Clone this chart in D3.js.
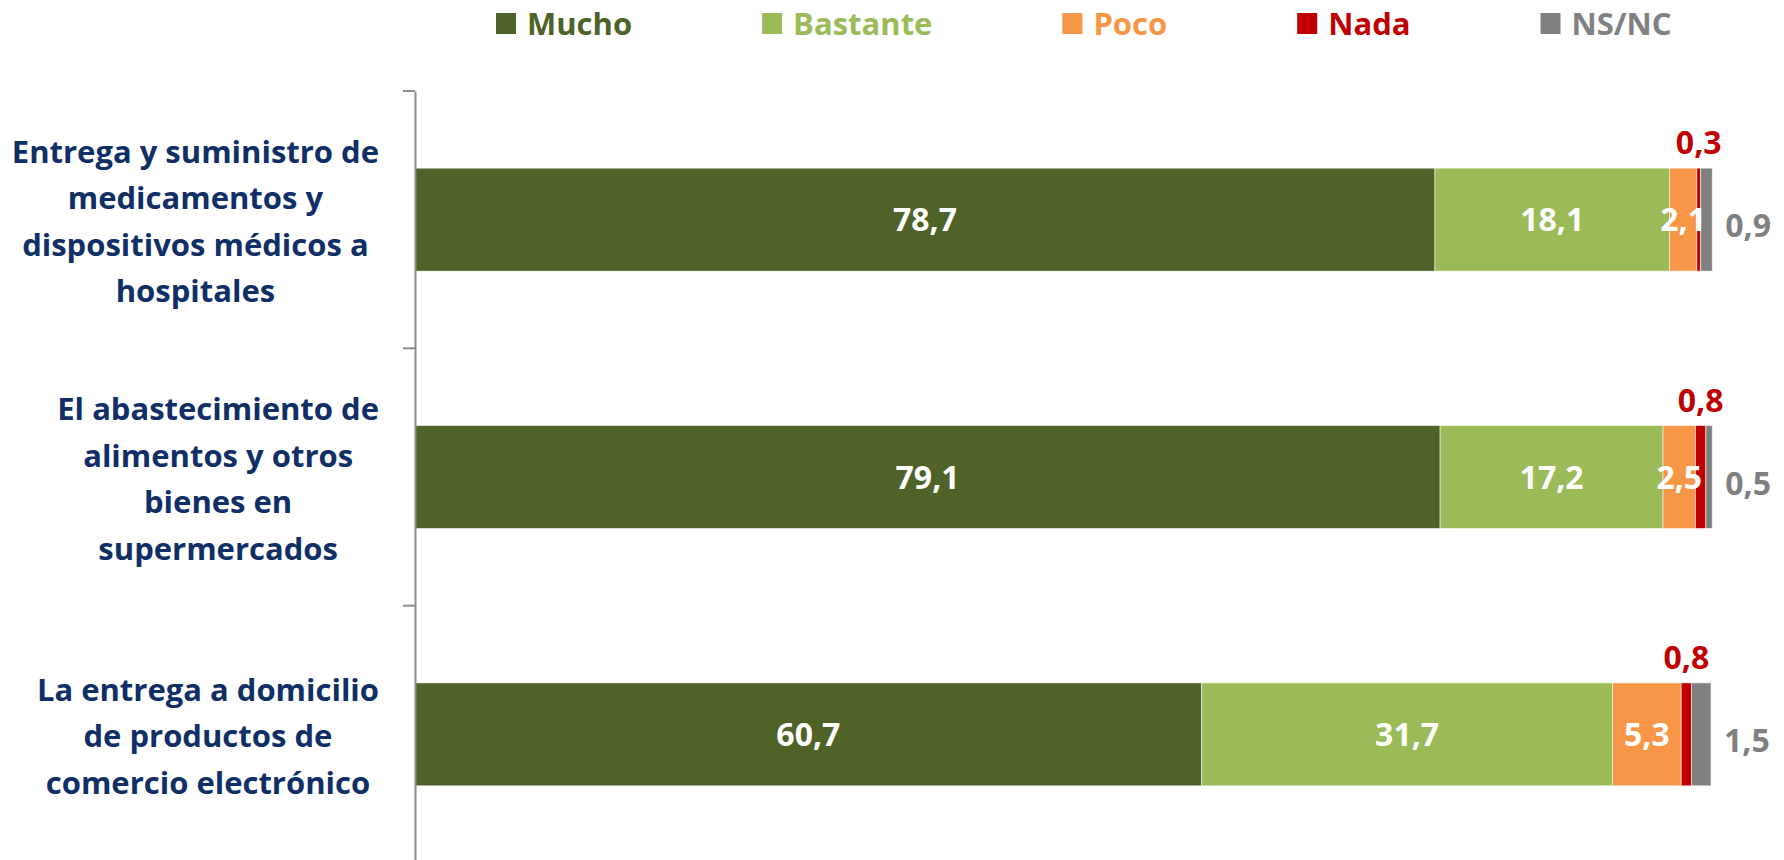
<!DOCTYPE html>
<html>
<head>
<meta charset="utf-8">
<script src="https://cdn.jsdelivr.net/npm/d3@7/dist/d3.min.js"></script>
<style>
  html, body { margin: 0; padding: 0; background: #fff; }
  svg { display: block; font-family: "Open Sans", sans-serif; }
</style>
</head>
<body>
<svg id="chart" width="1784" height="860"></svg>
<script>
// ---- data ----
const categories = [
  "Entrega y suministro de\nmedicamentos y\ndispositivos médicos a\nhospitales",
  "El abastecimiento de\nalimentos y otros\nbienes en\nsupermercados",
  "La entrega a domicilio\nde productos de\ncomercio electrónico"
];
const seriesNames = ["Mucho", "Bastante", "Poco", "Nada", "NS/NC"];
const mucho    = [78.7, 79.1, 60.7];
const bastante = [18.1, 17.2, 31.7];
const poco     = [2.1, 2.5, 5.3];
const nada     = [0.3, 0.8, 0.8];
const nsnc     = [0.9, 0.5, 1.5];
const colors   = ["#4F6228", "#9BBB59", "#F79646", "#C00000", "#808080"];

// ---- layout ----
const W = 1784, H = 860;
const plot = { left: 415, right: 1711, top: 91, bottom: 863 };
const svg = d3.select("#chart");
const locale = d3.formatLocale({ decimal: ",", thousands: ".", grouping: [3], currency: ["", "€"] });
const fmt = locale.format(".1f");

const rows = categories.map((c, i) => ({
  cat: c, Mucho: mucho[i], Bastante: bastante[i], Poco: poco[i], Nada: nada[i], "NS/NC": nsnc[i]
}));
const stack = d3.stack().keys(seriesNames)(rows);

const x = d3.scaleLinear().domain([0, 100]).range([plot.left, plot.right]);
const y = d3.scaleBand().domain(categories).range([plot.top, plot.bottom]).paddingInner(0.6).paddingOuter(0.3);
const color = d3.scaleOrdinal().domain(seriesNames).range(colors);

// ---- bars ----
const layers = svg.append("g").selectAll("g").data(stack).join("g")
  .attr("fill", d => color(d.key));
layers.selectAll("rect").data(d => d.map(p => ({ p, key: d.key }))).join("rect")
  .attr("x", d => x(d.p[0]))
  .attr("y", d => y(d.p.data.cat))
  .attr("width", d => x(d.p[1]) - x(d.p[0]))
  .attr("height", y.bandwidth())
  .attr("stroke", "rgba(255,255,255,0.55)")
  .attr("stroke-width", 1);

// ---- axis ----
const axisG = svg.append("g").attr("transform", `translate(${plot.left},0)`);
axisG.call(d3.axisLeft(y).tickSize(0).tickFormat(""));
axisG.select(".domain").attr("stroke", "#8C8C8C").attr("stroke-width", 2);
const step = y.step();
const boundaries = categories.map((c, i) => plot.top + i * step);
axisG.selectAll("line.bnd").data(boundaries).join("line").attr("class", "bnd")
  .attr("x1", -12).attr("x2", 0).attr("y1", d => d).attr("y2", d => d)
  .attr("stroke", "#8C8C8C").attr("stroke-width", 2);

// ---- category labels ----
const labelRight = 379, lineH = 46.5;
categories.forEach(c => {
  const lines = c.split("\n");
  const g = svg.append("g");
  const cy = y(c) + y.bandwidth() / 2;
  const texts = g.selectAll("text").data(lines).join("text")
    .attr("y", (d, i) => cy + 2 + (i - (lines.length - 1) / 2) * lineH)
    .attr("dy", "0.35em")
    .attr("text-anchor", "middle")
    .attr("font-size", 31).attr("font-weight", 700).attr("fill", "#0F2F66")
    .text(d => d);
  let maxW = 0;
  texts.each(function () { maxW = Math.max(maxW, this.getComputedTextLength()); });
  texts.attr("x", labelRight - maxW / 2);
});

// ---- value labels ----
const inside = ["Mucho", "Bastante", "Poco"];
stack.forEach(layer => {
  layer.forEach(p => {
    const v = p.data[layer.key];
    const cx = (x(p[0]) + x(p[1])) / 2;
    const top = y(p.data.cat), mid = top + y.bandwidth() / 2;
    if (inside.includes(layer.key)) {
      svg.append("text").attr("x", cx).attr("y", mid).attr("dy", "0.36em")
        .attr("text-anchor", "middle").attr("font-size", 32).attr("font-weight", 700)
        .attr("fill", "#fff").text(fmt(v));
    } else if (layer.key === "Nada") {
      svg.append("text").attr("x", cx).attr("y", top - 14)
        .attr("text-anchor", "middle").attr("font-size", 32).attr("font-weight", 700)
        .attr("fill", colors[3]).text(fmt(v));
    } else {
      svg.append("text").attr("x", x(p[1]) + 13).attr("y", mid + 6).attr("dy", "0.36em")
        .attr("text-anchor", "start").attr("font-size", 32).attr("font-weight", 700)
        .attr("fill", colors[4]).text(fmt(v));
    }
  });
});

// ---- legend ----
const leg = svg.append("g");
let lx = 496;
seriesNames.forEach((name, i) => {
  leg.append("rect").attr("x", lx).attr("y", 13).attr("width", 20).attr("height", 21).attr("fill", colors[i]);
  const t = leg.append("text").attr("x", lx + 31).attr("y", 35)
    .attr("font-size", 31).attr("font-weight", 700).attr("fill", colors[i]).text(name);
  lx += 31 + t.node().getComputedTextLength() + 130;
});
</script>
</body>
</html>
